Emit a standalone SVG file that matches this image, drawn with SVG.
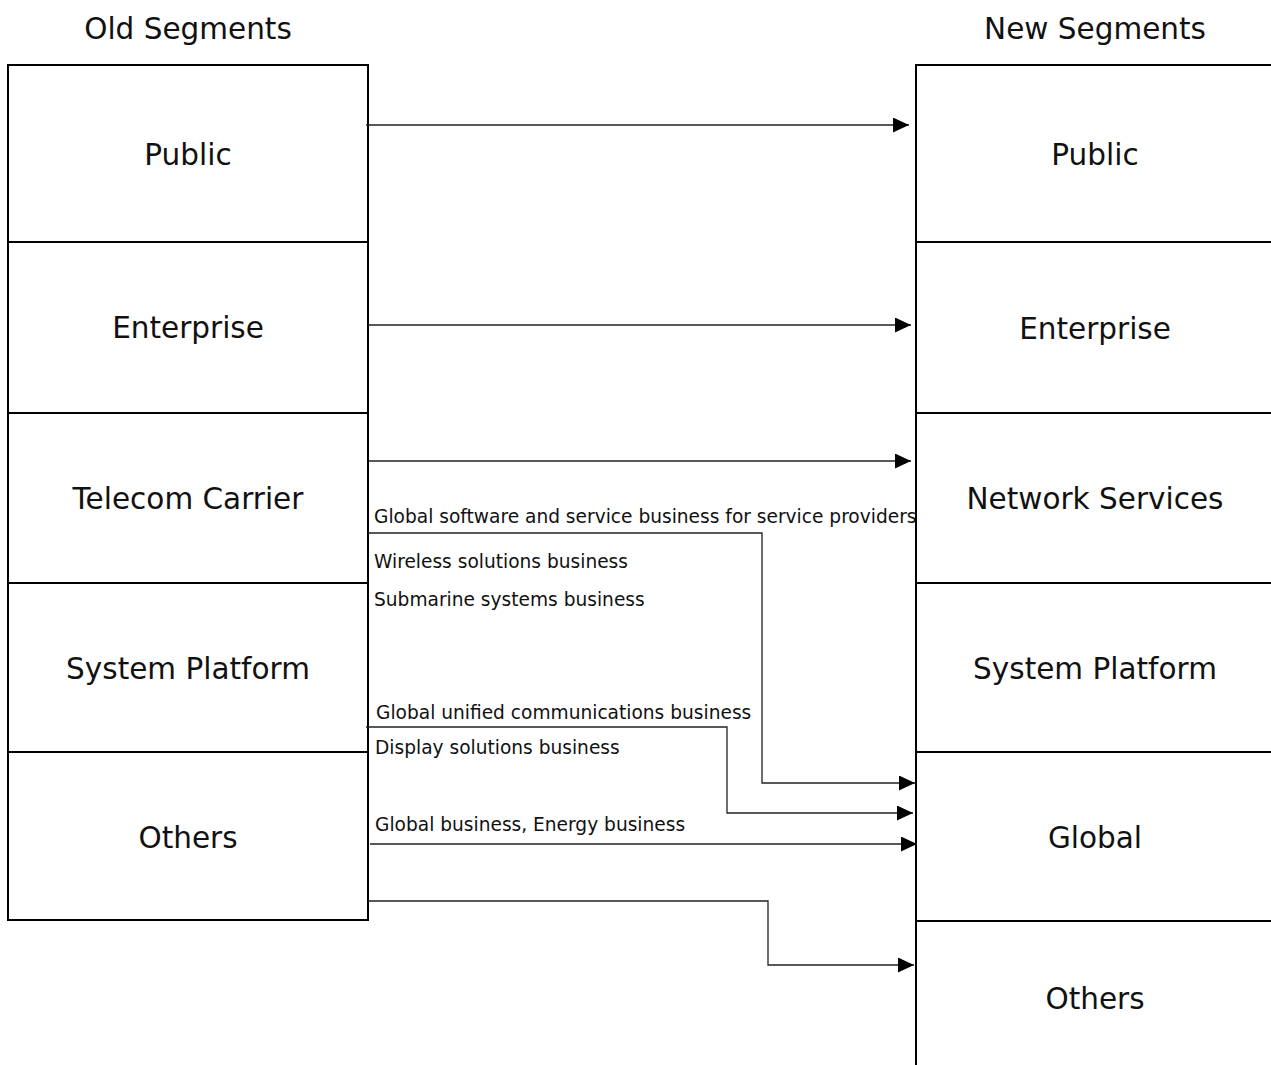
<svg xmlns="http://www.w3.org/2000/svg" width="1271" height="1065" viewBox="0 0 1271 1065">
<style>
.box{fill:#fff;stroke:#000;stroke-width:2}
.t{font-family:"DejaVu Sans",Verdana,sans-serif;font-size:29.5px;fill:#111;text-anchor:middle;dominant-baseline:central}
.lbl{font-family:"DejaVu Sans",Verdana,sans-serif;font-size:18.6px;fill:#111;dominant-baseline:central}
.c{fill:none;stroke:#222;stroke-width:1.3;marker-end:url(#ah)}
</style>
<defs>
<marker id="ah" markerUnits="userSpaceOnUse" markerWidth="16" markerHeight="15" viewBox="0 0 16 15" refX="16" refY="7.5" orient="auto">
<path d="M0,0 L16,7.5 L0,15 z" fill="#000"/>
</marker>
</defs>
<rect width="1271" height="1065" fill="#fff"/>
<text class="t" x="188" y="29">Old Segments</text>
<text class="t" x="1095" y="29">New Segments</text>
<g id="old-public"><rect class="box" x="8" y="65" width="360" height="177"/><text class="t" x="188" y="155">Public</text></g>
<g id="old-enterprise"><rect class="box" x="8" y="242" width="360" height="171"/><text class="t" x="188" y="328">Enterprise</text></g>
<g id="old-telecom"><rect class="box" x="8" y="413" width="360" height="170"/><text class="t" x="188" y="499">Telecom Carrier</text></g>
<g id="old-system"><rect class="box" x="8" y="583" width="360" height="169"/><text class="t" x="188" y="669">System Platform</text></g>
<g id="old-others"><rect class="box" x="8" y="752" width="360" height="168"/><text class="t" x="188" y="838">Others</text></g>
<g id="new-public"><rect class="box" x="916" y="65" width="360" height="177"/><text class="t" x="1095" y="155">Public</text></g>
<g id="new-enterprise"><rect class="box" x="916" y="242" width="360" height="171"/><text class="t" x="1095" y="329">Enterprise</text></g>
<g id="new-network"><rect class="box" x="916" y="413" width="360" height="170"/><text class="t" x="1095" y="499">Network Services</text></g>
<g id="new-system"><rect class="box" x="916" y="583" width="360" height="169"/><text class="t" x="1095" y="669">System Platform</text></g>
<g id="new-global"><rect class="box" x="916" y="752" width="360" height="169"/><text class="t" x="1095" y="838">Global</text></g>
<g id="new-others"><rect class="box" x="916" y="921" width="360" height="160"/><text class="t" x="1095" y="999">Others</text></g>
<g id="connectors">
<path class="c" d="M366,125 H909"/>
<path class="c" d="M368,325 H911"/>
<path class="c" d="M369,461 H911"/>
<path class="c" d="M368,533 H762 V783 H915"/>
<path class="c" d="M366,727 H727 V813 H913"/>
<path class="c" d="M370,844 H917"/>
<path class="c" d="M368,901 H768 V965 H914"/>
</g>
<g id="labels">
<text class="lbl" x="374" y="516">Global software and service business for service providers</text>
<text class="lbl" x="374" y="561">Wireless solutions business</text>
<text class="lbl" x="374" y="599">Submarine systems business</text>
<text class="lbl" x="376" y="712">Global unified communications business</text>
<text class="lbl" x="375" y="747">Display solutions business</text>
<text class="lbl" x="375" y="824">Global business, Energy business</text>
</g>
</svg>
